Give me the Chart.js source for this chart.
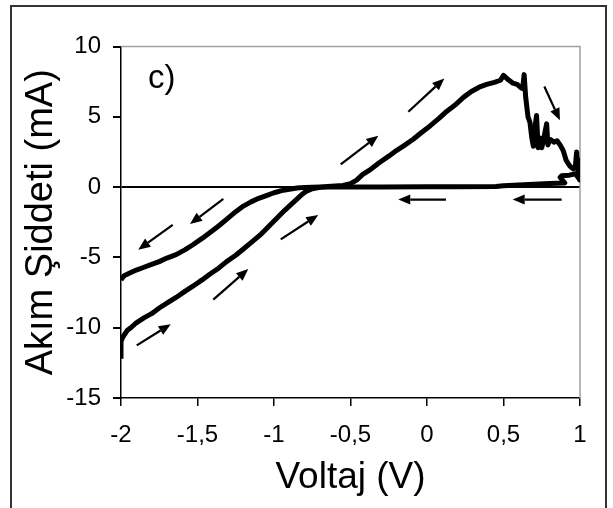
<!DOCTYPE html>
<html>
<head>
<meta charset="utf-8">
<script src="https://cdn.jsdelivr.net/npm/chart.js@4/dist/chart.umd.min.js"></script>
<style>
    body { margin: 0; background: #fff; }
    #wrap { width: 613px; height: 508px; position: relative; }
</style>
</head>
<body>
<div id="wrap"><canvas id="chart" width="613" height="508"></canvas></div>
<script>
// forward sweep: -2 V -> +1 V (lower branch, peak, noisy drop)
const forwardV = [-2.0, -2.0, -1.99, -1.96, -1.93, -1.90, -1.85, -1.80, -1.75, -1.70, -1.64, -1.58, -1.53, -1.47,
    -1.42, -1.36, -1.31, -1.25, -1.20, -1.15, -1.09, -1.04, -0.98, -0.93, -0.87, -0.82, -0.79, -0.75, -0.70,
    -0.65, -0.60, -0.55, -0.50, -0.46, -0.42, -0.37, -0.31, -0.25, -0.20, -0.15, -0.09, -0.04, 0.02, 0.08,
    0.13, 0.19, 0.24, 0.29, 0.35, 0.39, 0.44, 0.48, 0.50, 0.53, 0.56, 0.59, 0.61, 0.625, 0.635, 0.645, 0.66,
    0.673, 0.685, 0.695, 0.705, 0.716, 0.726, 0.738, 0.75, 0.76, 0.782, 0.79, 0.804, 0.83, 0.85, 0.87, 0.89,
    0.91, 0.934, 0.955, 0.97, 0.978, 0.985, 0.99, 1.0, 1.0];
const forwardI = [-12.2, -11.0, -10.7, -10.2, -9.95, -9.65, -9.3, -9.0, -8.6, -8.25, -7.85, -7.4, -7.05, -6.6,
    -6.2, -5.75, -5.3, -4.85, -4.4, -3.95, -3.4, -2.85, -2.2, -1.65, -1.05, -0.55, -0.3, -0.12, -0.02,
    0.05, 0.08, 0.12, 0.25, 0.5, 0.9, 1.25, 1.75, 2.2, 2.6, 2.95, 3.4, 3.85, 4.35, 4.9,
    5.4, 5.9, 6.4, 6.8, 7.15, 7.3, 7.45, 7.6, 7.95, 7.65, 7.4, 7.3, 7.1, 7.0, 8.0, 6.4, 5.0,
    4.6, 3.5, 2.9, 4.2, 5.1, 2.8, 3.5, 2.8, 3.3, 4.5, 3.0, 3.4, 3.2, 3.3, 3.0, 2.6,
    1.9, 1.5, 1.3, 1.5, 2.5, 1.2, 1.6, 1.9, 0.5];

// return sweep: +1 V -> -2 V (flat near zero, then upper-left branch)
const returnV = [1.0, 0.97, 0.93, 0.88, 0.87, 0.9, 0.8, 0.7, 0.6, 0.5, 0.45, 0.2, 0.0, -0.3, -0.5, -0.7,
    -0.8, -0.85, -0.9, -0.95, -1.0, -1.05, -1.1, -1.15, -1.2, -1.25, -1.31, -1.36, -1.42, -1.47, -1.53,
    -1.58, -1.64, -1.70, -1.75, -1.80, -1.85, -1.90, -1.95, -1.98, -2.0];
const returnI = [0.5, 0.95, 0.85, 0.8, 0.7, 0.3, 0.25, 0.2, 0.15, 0.1, 0.05, 0.03, 0.02, 0.0, 0.0, 0.0,
    -0.02, -0.07, -0.15, -0.25, -0.4, -0.6, -0.8, -1.05, -1.35, -1.75, -2.3, -2.75, -3.25, -3.65, -4.1,
    -4.45, -4.8, -5.05, -5.3, -5.5, -5.7, -5.9, -6.15, -6.3, -6.6];

// sweep direction arrows: [tailV, tailI, headV, headI]
const arrows = [
    [-0.122, 5.36, 0.113, 7.73],
    [-0.564, 1.61, -0.318, 3.66],
    [0.767, 7.15, 0.869, 4.75],
    [0.88, -0.89, 0.56, -0.89],
    [0.124, -0.89, -0.188, -0.89],
    [-1.331, -0.84, -1.549, -2.63],
    [-1.662, -2.68, -1.887, -4.45],
    [-0.956, -3.72, -0.711, -1.98],
    [-1.397, -8.0, -1.168, -5.83],
    [-1.897, -11.26, -1.675, -9.75]
];

const xTickLabels = ['-2', '-1,5', '-1', '-0,5', '0', '0,5', '1'];
const yTickLabels = ['-15', '-10', '-5', '0', '5', '10'];
const panelLabel = 'c)';

const FONT = '"Liberation Sans", Arial, sans-serif';

function toPoints(xs, ys) {
    return xs.map((x, i) => ({x: x, y: ys[i]}));
}

const framePlugin = {
    id: 'frame',
    beforeDraw(chart) {
        const ctx = chart.ctx;
        ctx.save();
        ctx.fillStyle = '#fff';
        ctx.fillRect(0, 0, chart.width, chart.height);
        ctx.strokeStyle = '#333';
        ctx.lineWidth = 2;
        ctx.strokeRect(11, 6, 595, 530);
        ctx.restore();
    },
    beforeDatasetsDraw(chart) {
        const {ctx, chartArea: a} = chart;
        ctx.save();
        ctx.strokeStyle = '#a0a0a0';
        ctx.lineWidth = 1.5;
        ctx.beginPath();
        ctx.moveTo(a.left, a.top);
        ctx.lineTo(a.right, a.top);
        ctx.lineTo(a.right, a.bottom);
        ctx.stroke();
        ctx.restore();
    },
    afterDatasetsDraw(chart) {
        const {ctx, scales: {x, y}, chartArea: a} = chart;
        ctx.save();
        ctx.strokeStyle = '#000';
        ctx.fillStyle = '#000';
        ctx.lineWidth = 2.2;
        arrows.forEach(([v1, i1, v2, i2]) => {
            const x1 = x.getPixelForValue(v1), y1 = y.getPixelForValue(i1);
            const x2 = x.getPixelForValue(v2), y2 = y.getPixelForValue(i2);
            const ang = Math.atan2(y2 - y1, x2 - x1);
            const len = 12, half = 5;
            const bx = x2 - len * Math.cos(ang), by = y2 - len * Math.sin(ang);
            ctx.beginPath();
            ctx.moveTo(x1, y1);
            ctx.lineTo(bx, by);
            ctx.stroke();
            ctx.beginPath();
            ctx.moveTo(x2, y2);
            ctx.lineTo(bx + half * Math.sin(ang), by - half * Math.cos(ang));
            ctx.lineTo(bx - half * Math.sin(ang), by + half * Math.cos(ang));
            ctx.closePath();
            ctx.fill();
        });
        ctx.font = '33px ' + FONT;
        ctx.textBaseline = 'alphabetic';
        ctx.textAlign = 'left';
        ctx.fillText(panelLabel, a.left + 27, 88);
        ctx.restore();
    }
};

const lineStyle = {
    showLine: true,
    borderColor: '#000',
    backgroundColor: '#000',
    borderWidth: 5,
    borderJoinStyle: 'round',
    pointRadius: 0,
    tension: 0,
    fill: false
};

new Chart(document.getElementById('chart'), {
    type: 'scatter',
    data: {
        datasets: [
            Object.assign({label: 'forward', data: toPoints(forwardV, forwardI)}, lineStyle),
            Object.assign({label: 'return', data: toPoints(returnV, returnI)}, lineStyle)
        ]
    },
    options: {
        responsive: false,
        animation: false,
        layout: {padding: {left: 0, top: 46.5, right: 33, bottom: 0}},
        plugins: {legend: {display: false}, tooltip: {enabled: false}},
        scales: {
            x: {
                type: 'linear',
                min: -2,
                max: 1,
                afterFit: (scale) => { scale.height = 110; },
                border: {display: true, color: '#000', width: 1.5},
                grid: {drawOnChartArea: false, tickLength: 8, tickColor: '#000', lineWidth: 1.5},
                ticks: {
                    stepSize: 0.5,
                    maxRotation: 0,
                    padding: 15,
                    color: '#000',
                    font: {family: FONT, size: 24},
                    callback: (value, index) => xTickLabels[index]
                },
                title: {
                    display: true,
                    text: 'Voltaj (V)',
                    color: '#000',
                    font: {family: FONT, size: 37},
                    padding: {top: 0, bottom: 8}
                }
            },
            y: {
                type: 'linear',
                min: -15,
                max: 10,
                afterFit: (scale) => { scale.width = 121; },
                border: {display: true, color: '#000', width: 1.5},
                grid: {
                    drawOnChartArea: true,
                    tickLength: 8,
                    tickColor: '#000',
                    lineWidth: 2,
                    color: (ctx) => (ctx.tick && ctx.tick.value === 0) ? '#000' : 'rgba(0,0,0,0)'
                },
                ticks: {
                    stepSize: 5,
                    padding: 12,
                    color: '#000',
                    font: {family: FONT, size: 24},
                    callback: (value, index) => yTickLabels[index]
                },
                title: {
                    display: true,
                    text: 'Akım Şiddeti (mA)',
                    color: '#000',
                    font: {family: FONT, size: 38},
                    padding: {top: 19, bottom: 0}
                }
            }
        }
    },
    plugins: [framePlugin]
});
</script>
</body>
</html>
